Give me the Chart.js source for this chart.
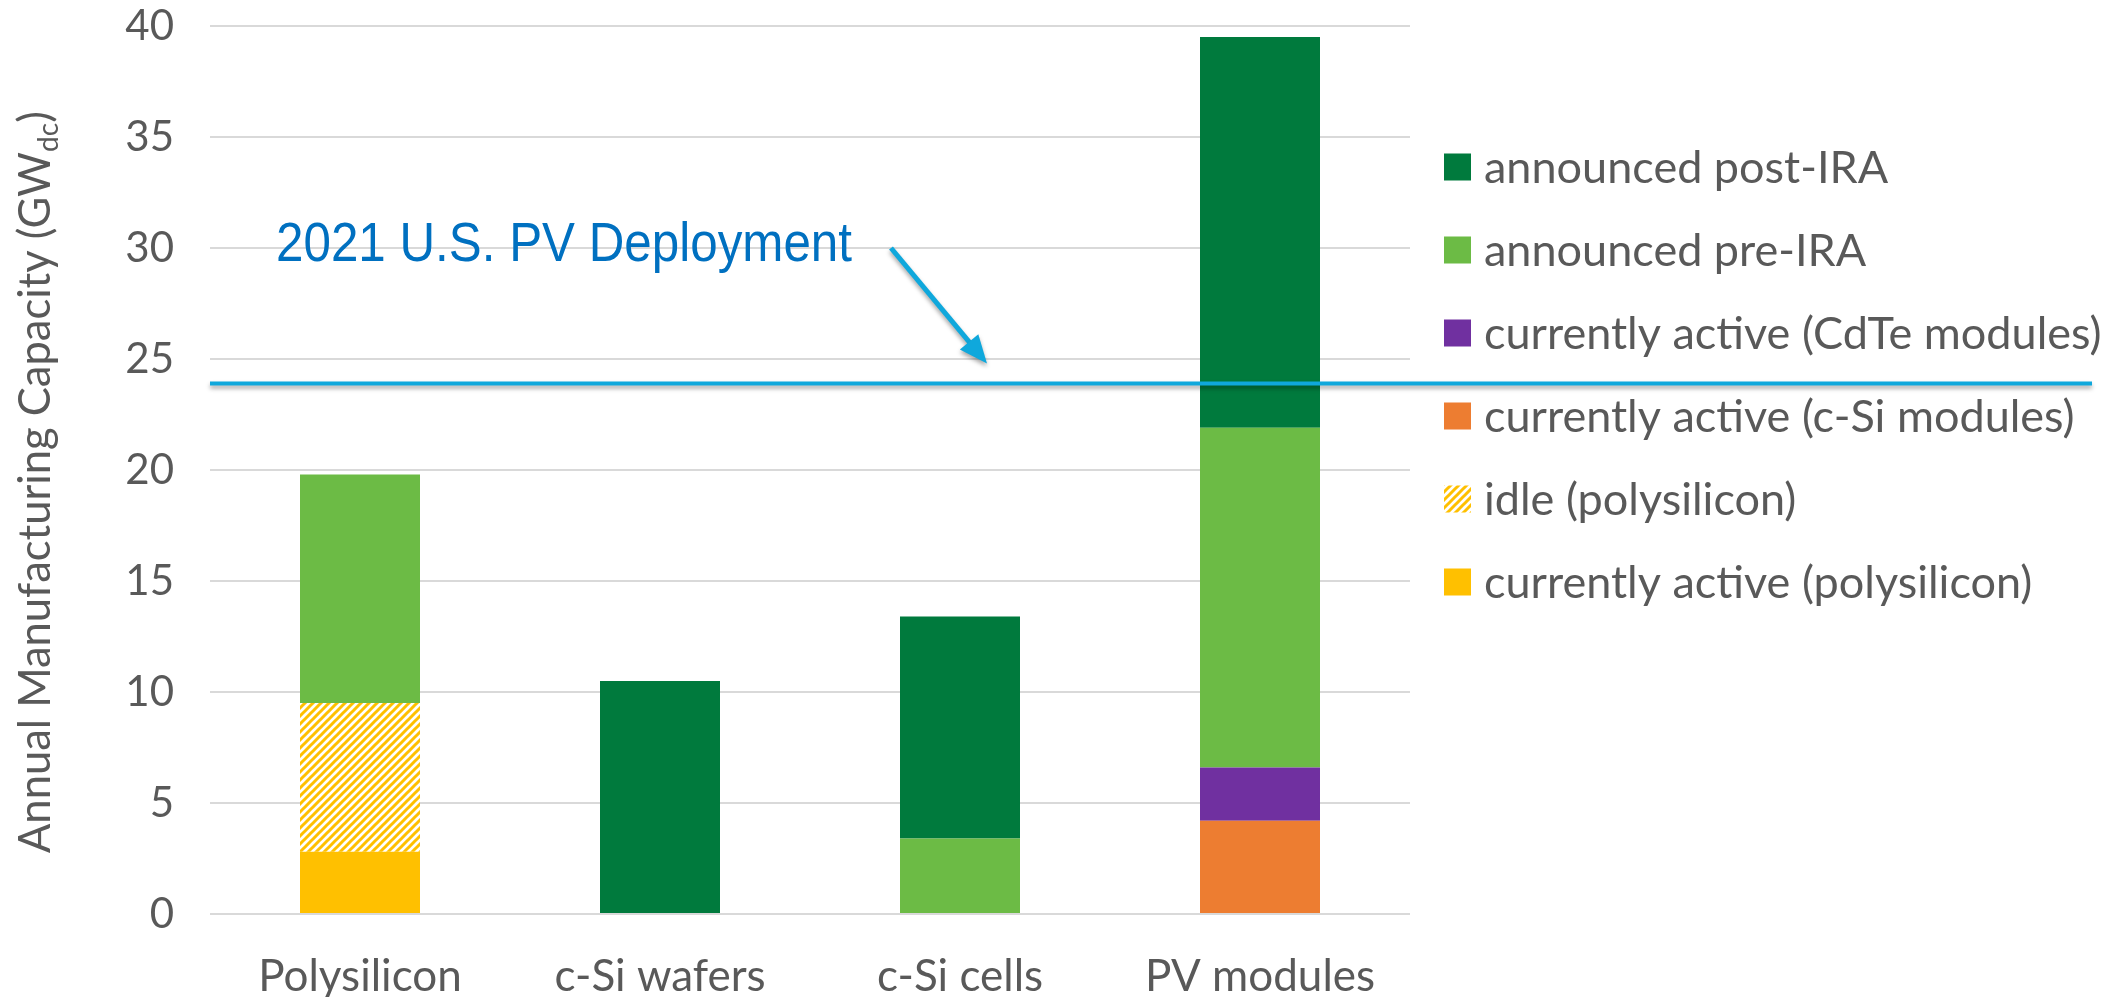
<!DOCTYPE html>
<html>
<head>
<meta charset="utf-8">
<script src="https://cdn.jsdelivr.net/npm/chart.js@4.4.1/dist/chart.umd.min.js"></script>
<style>
  html, body { margin: 0; padding: 0; background: #ffffff; }
  #wrap { width: 2126px; height: 997px; position: relative; }
</style>
</head>
<body>
<div id="wrap"><canvas id="capacityChart"></canvas></div>
<script>
const categories = ["Polysilicon", "c-Si wafers", "c-Si cells", "PV modules"];

// stacked from bottom to top
const activePolysilicon = [2.8, null, null, null];
const idlePolysilicon = [6.7, null, null, null];
const activeCSiModules = [null, null, null, 4.2];
const activeCdTeModules = [null, null, null, 2.4];
const announcedPreIRA = [10.3, null, 3.4, 15.3];
const announcedPostIRA = [null, 10.5, 10.0, 17.6];

const yTicks = [0, 5, 10, 15, 20, 25, 30, 35, 40];
const deployment2021 = 23.9;
const deploymentLabel = "2021 U.S. PV Deployment";
// annotation anchors in data units: [category index, value]
const labelAnchor = [-0.28, 29.4];
const arrowFrom = [1.77, 30.0];
const arrowTo = [2.09, 24.8];

const TEXT = "#595959";
const FONT = "Lato";

function hatchPattern() {
  const c = document.createElement("canvas");
  c.width = 8;
  c.height = 8;
  const g = c.getContext("2d");
  g.fillStyle = "#ffffff";
  g.fillRect(0, 0, 8, 8);
  g.strokeStyle = "#FFC000";
  g.lineWidth = 3;
  g.beginPath();
  g.moveTo(-2, 10); g.lineTo(10, -2);
  g.moveTo(-6, 6); g.lineTo(6, -6);
  g.moveTo(2, 14); g.lineTo(14, 2);
  g.stroke();
  return g.createPattern(c, "repeat");
}

const hatch = hatchPattern();

// y-axis title with subscript
const yTitlePlugin = {
  id: "yTitle",
  afterDraw(chart) {
    const ctx = chart.ctx;
    ctx.save();
    ctx.translate(50, 853);
    ctx.rotate(-Math.PI / 2);
    ctx.fillStyle = TEXT;
    ctx.textBaseline = "alphabetic";
    ctx.textAlign = "left";
    const main = "Annual Manufacturing Capacity (GW";
    ctx.font = "43.5px " + FONT;
    ctx.fillText(main, 0, 0);
    let x = ctx.measureText(main).width;
    ctx.font = "28px " + FONT;
    ctx.fillText("dc", x, 8);
    x += ctx.measureText("dc").width;
    ctx.font = "43.5px " + FONT;
    ctx.fillText(")", x, 0);
    ctx.restore();
  },
};

// legend on the right, top entry = top of stack
const legendPlugin = {
  id: "sideLegend",
  afterDraw(chart) {
    const ctx = chart.ctx;
    const sets = chart.data.datasets.slice().reverse();
    ctx.save();
    ctx.font = "45px " + FONT;
    ctx.textBaseline = "middle";
    sets.forEach((ds, i) => {
      const cy = 167 + i * 83;
      ctx.fillStyle = ds.backgroundColor;
      ctx.fillRect(1444, cy - 13.5, 27, 27);
      ctx.fillStyle = TEXT;
      ctx.fillText(ds.label, 1484, cy + 1);
    });
    ctx.restore();
  },
};

// 2021 deployment line + label + arrow
const deploymentPlugin = {
  id: "deployment",
  afterDatasetsDraw(chart) {
    const ctx = chart.ctx;
    const xs = chart.scales.x;
    const ys = chart.scales.y;
    const y = ys.getPixelForValue(deployment2021);
    ctx.save();
    ctx.shadowColor = "rgba(0,0,0,0.35)";
    ctx.shadowBlur = 4;
    ctx.shadowOffsetY = 3;
    ctx.strokeStyle = "#0FA8DC";
    ctx.lineWidth = 4;
    ctx.beginPath();
    ctx.moveTo(chart.chartArea.left, y);
    ctx.lineTo(2092, y);
    ctx.stroke();

    // arrow
    const x0 = xs.getPixelForValue(arrowFrom[0]);
    const y0 = ys.getPixelForValue(arrowFrom[1]);
    const x1 = xs.getPixelForValue(arrowTo[0]);
    const y1 = ys.getPixelForValue(arrowTo[1]);
    const ang = Math.atan2(y1 - y0, x1 - x0);
    const headLen = 28;
    const headW = 12;
    ctx.lineWidth = 5;
    ctx.beginPath();
    ctx.moveTo(x0, y0);
    ctx.lineTo(x1 - Math.cos(ang) * headLen * 0.8, y1 - Math.sin(ang) * headLen * 0.8);
    ctx.stroke();
    ctx.fillStyle = "#0FA8DC";
    ctx.beginPath();
    ctx.moveTo(x1, y1);
    ctx.lineTo(x1 - Math.cos(ang) * headLen + Math.sin(ang) * headW,
               y1 - Math.sin(ang) * headLen - Math.cos(ang) * headW);
    ctx.lineTo(x1 - Math.cos(ang) * headLen - Math.sin(ang) * headW,
               y1 - Math.sin(ang) * headLen + Math.cos(ang) * headW);
    ctx.closePath();
    ctx.fill();
    ctx.restore();

    // label, condensed to the width seen in the reference
    ctx.save();
    ctx.font = "56px 'Liberation Sans', Arial, sans-serif";
    ctx.fillStyle = "#0070C0";
    ctx.textBaseline = "alphabetic";
    const w = ctx.measureText(deploymentLabel).width;
    ctx.translate(xs.getPixelForValue(labelAnchor[0]), ys.getPixelForValue(labelAnchor[1]));
    ctx.scale(576 / w, 1);
    ctx.fillText(deploymentLabel, 0, 0);
    ctx.restore();
  },
};

function inicializarGrafico() {
  const ctx = document.getElementById("capacityChart").getContext("2d");
  return new Chart(ctx, {
    type: "bar",
    data: {
      labels: categories,
      datasets: [
        { label: "currently active (polysilicon)", data: activePolysilicon, backgroundColor: "#FFC000" },
        { label: "idle (polysilicon)", data: idlePolysilicon, backgroundColor: hatch },
        { label: "currently active (c-Si modules)", data: activeCSiModules, backgroundColor: "#ED7D31" },
        { label: "currently active (CdTe modules)", data: activeCdTeModules, backgroundColor: "#7030A0" },
        { label: "announced pre-IRA", data: announcedPreIRA, backgroundColor: "#6CBB45" },
        { label: "announced post-IRA", data: announcedPostIRA, backgroundColor: "#007A3D" },
      ],
    },
    options: {
      responsive: true,
      maintainAspectRatio: false,
      animation: false,
      layout: { padding: { top: 26, right: 716, left: 0, bottom: 0 } },
      datasets: { bar: { categoryPercentage: 1, barPercentage: 0.4 } },
      plugins: {
        legend: { display: false },
        tooltip: { enabled: false },
      },
      scales: {
        x: {
          stacked: true,
          grid: { display: false },
          border: { display: false },
          ticks: { color: TEXT, font: { family: FONT, size: 44 }, padding: 28 },
          afterFit: (s) => {
            s.height = 83;
            s.paddingLeft = 0;
            s.paddingRight = 0;
          },
        },
        y: {
          stacked: true,
          min: 0,
          max: 40,
          afterBuildTicks: (s) => { s.ticks = yTicks.map((v) => ({ value: v })); },
          grid: { color: "#D9D9D9", lineWidth: 2, drawTicks: false },
          border: { display: false },
          ticks: { color: TEXT, font: { family: FONT, size: 42 }, padding: 36 },
          afterFit: (s) => {
            s.width = 210;
            s.paddingTop = 0;
            s.paddingBottom = 0;
          },
        },
      },
    },
    plugins: [yTitlePlugin, legendPlugin, deploymentPlugin],
  });
}

document.addEventListener("DOMContentLoaded", () => {
  inicializarGrafico();
});
</script>
</body>
</html>
